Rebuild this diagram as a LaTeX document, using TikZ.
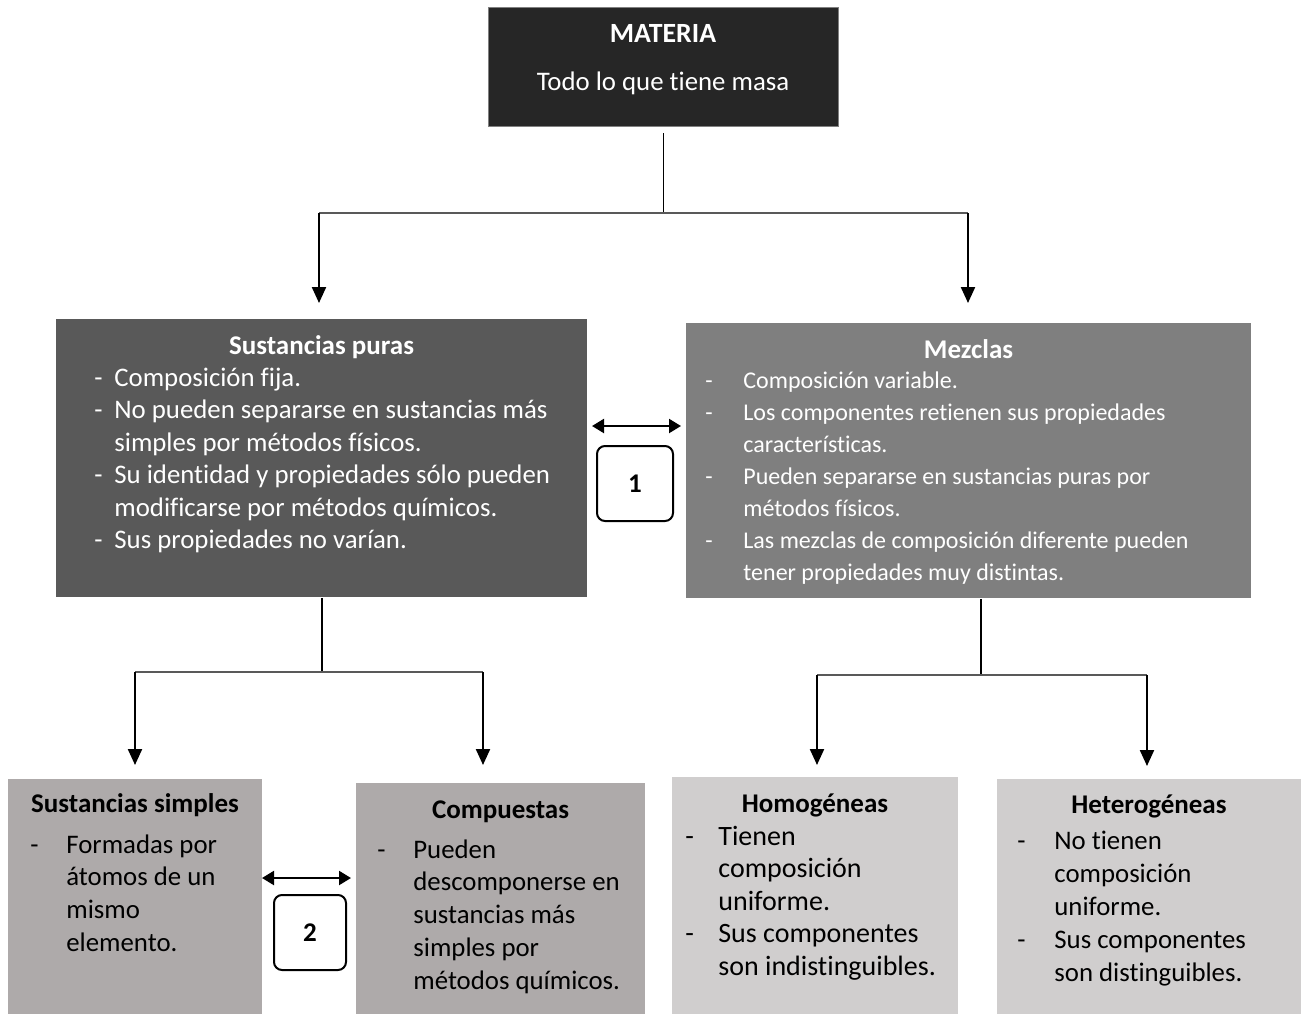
\documentclass[tikz,border=0pt]{standalone}
\usepackage{fontspec}
\setmainfont{Carlito}[Ligatures=NoCommon]
\usepackage{tikz}
\usetikzlibrary{arrows.meta,positioning}
\definecolor{negro}{HTML}{262626}
\definecolor{grisoscuro}{HTML}{595959}
\definecolor{grismedio}{HTML}{7F7F7F}
\definecolor{grisclaro}{HTML}{AEAAAA}
\definecolor{grispalido}{HTML}{D0CECE}
\newcommand{\guiones}[2]{\begin{tabular}[t]{@{}p{#1}@{}l@{}}#2\end{tabular}}

\begin{document}
\begin{tikzpicture}[x=0.5pt,y=-0.5pt,
  caja/.style 2 args={anchor=north west, inner sep=0, minimum width=#1*0.5pt, minimum height=#2*0.5pt},
  titulo/.style={anchor=base, inner sep=0, font=\bfseries\fontsize{13.5}{15}\selectfont},
  lista/.style 2 args={anchor=base west, inner sep=0, align=left, font=\fontsize{#1}{#2}\selectfont},
  flecha/.style={line width=1.1pt, -{Triangle[length=8pt,width=7pt]}},
  doble/.style={line width=1.1pt, shorten <=2.5pt, shorten >=2.5pt, {Triangle[length=6pt,width=7pt]}-{Triangle[length=6pt,width=7pt]}},
  tallo/.style={line width=0.6pt},
  rama/.style={line width=0.9pt, draw=grisoscuro},
  numero/.style={draw, line width=1pt, rounded corners=4pt, fill=white, inner sep=0, font=\bfseries\fontsize{13.5}{15}\selectfont}]
\useasboundingbox (0,0) rectangle (1303,1014);

% cajas
\node[caja={350}{119}, fill=negro, draw=gray, line width=0.5pt] (materia) at (488,7) {};
\node[caja={531}{278}, fill=grisoscuro] (puras) at (56,319) {};
\node[caja={565}{275}, fill=grismedio] (mezclas) at (686,323) {};
\node[caja={254}{235}, fill=grisclaro] (simples) at (8,779) {};
\node[caja={289}{231}, fill=grisclaro] (compuestas) at (356,783) {};
\node[caja={286}{237}, fill=grispalido] (homog) at (672,777) {};
\node[caja={304}{235}, fill=grispalido] (heterog) at (997,779) {};

% textos
\node[titulo, text=white, font=\bfseries\fontsize{13.9}{15}\selectfont] (tmateria) at (663,42) {MATERIA};
\node[anchor=base, inner sep=0, text=white, font=\fontsize{13.4}{15}\selectfont] (dmateria) at (663,90) {Todo lo que tiene masa};

\node[titulo, text=white] (tpuras) at (321.5,354) {Sustancias puras};
\node[lista={13.4}{16.25pt}, text=white] (lpuras) at (94,386) {\guiones{10pt}{%
- & Composición fija.\\
- & No pueden separarse en sustancias más\\
  & simples por métodos físicos.\\
- & Su identidad y propiedades sólo pueden\\
  & modificarse por métodos químicos.\\
- & Sus propiedades no varían.}};

\node[titulo, text=white] (tmezclas) at (968.5,358) {Mezclas};
\node[lista={12}{16pt}, text=white] (lmezclas) at (705,388) {\guiones{19pt}{%
- & Composición variable.\\
- & Los componentes retienen sus propiedades\\
  & características.\\
- & Pueden separarse en sustancias puras por\\
  & métodos físicos.\\
- & Las mezclas de composición diferente pueden\\
  & tener propiedades muy distintas.}};

\node[titulo] (tsimples) at (135,812) {Sustancias simples};
\node[lista={13.4}{16.35pt}] (lsimples) at (30,853) {\guiones{18pt}{%
- & Formadas por\\
  & átomos de un\\
  & mismo\\
  & elemento.}};

\node[titulo] (tcompuestas) at (500.5,818) {Compuestas};
\node[lista={13.4}{16.4pt}] (lcompuestas) at (377,858) {\guiones{18pt}{%
- & Pueden\\
  & descomponerse en\\
  & sustancias más\\
  & simples por\\
  & métodos químicos.}};

\node[titulo] (thomog) at (815,812) {Homogéneas};
\node[lista={14}{16.25pt}] (lhomog) at (685,845) {\guiones{16.5pt}{%
- & Tienen\\
  & composición\\
  & uniforme.\\
- & Sus componentes\\
  & son indistinguibles.}};

\node[titulo] (theterog) at (1149,813) {Heterogéneas};
\node[lista={13.4}{16.5pt}] (lheterog) at (1017,849) {\guiones{18.5pt}{%
- & No tienen\\
  & composición\\
  & uniforme.\\
- & Sus componentes\\
  & son distinguibles.}};

% numeros
\node[numero, minimum width=38pt, minimum height=37.5pt] (uno) at (635,483.5) {1};
\node[numero, minimum width=36pt, minimum height=37.5pt] (dos) at (310,932.5) {2};

% conectores
\coordinate (b1i) at (319,213);
\coordinate (b1d) at (968,213);
\coordinate (b2i) at (135,672);
\coordinate (b2d) at (483,672);
\coordinate (b3i) at (817,675);
\coordinate (b3d) at (1147,675);
\coordinate (d1) at (587,426);
\coordinate (d2) at (262,878);

\draw[tallo] ([yshift=-3pt]materia.south) -- (materia.south |- b1i);
\draw[rama] (b1i) -- (b1d);
\draw[flecha] (b1i) -- ([yshift=8pt]puras.north -| b1i);
\draw[flecha] (b1d) -- ([yshift=10pt]mezclas.north -| b1d);

\draw[tallo] (puras.south) -- (puras.south |- b2i);
\draw[rama] (b2i) -- (b2d);
\draw[flecha] (b2i) -- ([yshift=7pt]simples.north -| b2i);
\draw[flecha] (b2d) -- ([yshift=9pt]compuestas.north -| b2d);

\draw[tallo] ([xshift=6pt]mezclas.south) -- ([xshift=6pt]mezclas.south |- b3i);
\draw[rama] (b3i) -- (b3d);
\draw[flecha] (b3i) -- ([yshift=6pt]homog.north -| b3i);
\draw[flecha] (b3d) -- ([yshift=6.5pt]heterog.north -| b3d);

\draw[doble] (d1) -- (mezclas.west |- d1);
\draw[doble, shorten <=0pt] (d2) -- (compuestas.west |- d2);
\end{tikzpicture}
\end{document}
